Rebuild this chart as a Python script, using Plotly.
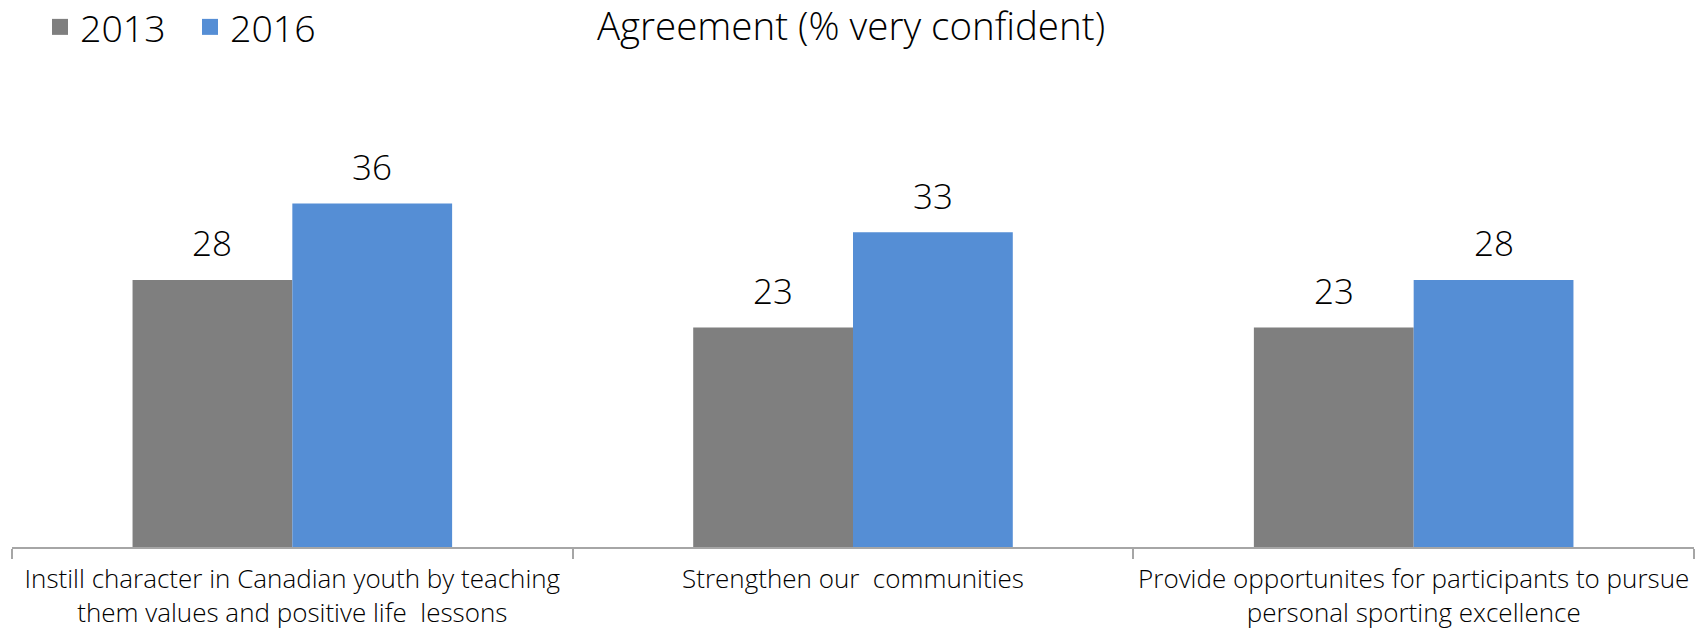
import plotly.graph_objects as go

# Survey items and agreement shares (% very confident)
categories = [
    "Instill character in Canadian youth by teaching<br>them values and positive life  lessons",
    "Strengthen our  communities",
    "Provide opportunites for participants to pursue<br>personal sporting excellence",
]
values_2013 = [28, 23, 23]
values_2016 = [36, 33, 28]
series_names = ["2013", "2016"]
series_colors = ["#7f7f7f", "#558ed5"]

FONT = "Open Sans"
WEIGHT = 300
BARGAP = 0.43

fig = go.Figure()
for name, vals, color in zip(series_names, [values_2013, values_2016], series_colors):
    fig.add_trace(go.Bar(
        name=name,
        x=categories,
        y=vals,
        marker=dict(color=color, line=dict(width=0)),
        showlegend=False,
        hoverinfo="skip",
    ))

# legend entries drawn as larger square swatches
for name, color in zip(series_names, series_colors):
    fig.add_trace(go.Scatter(
        name=name, x=[None], y=[None], mode="markers",
        marker=dict(symbol="square", size=16, color=color),
        showlegend=True, hoverinfo="skip",
    ))

# value labels above each bar, placed at the grouped bar centres
half = (1 - BARGAP) / 4
annotations = []
for k, vals in enumerate([values_2013, values_2016]):
    off = -half if k == 0 else half
    for i, v in enumerate(vals):
        annotations.append(dict(
            x=i + off, y=v, xref="x", yref="y",
            text=str(v), showarrow=False,
            yanchor="middle", yshift=37,
            font=dict(family=FONT, size=35, color="#000000", weight=WEIGHT),
        ))

fig.update_layout(
    width=1702, height=632,
    margin=dict(l=12, r=8, t=70, b=85, autoexpand=False),
    paper_bgcolor="white", plot_bgcolor="white",
    barmode="group", bargap=BARGAP, bargroupgap=0,
    font=dict(family=FONT, color="#000000", weight=WEIGHT),
    title=dict(
        text="Agreement (% very confident)",
        x=0.5, xref="container", xanchor="center",
        y=1 - 27 / 632, yref="container", yanchor="middle",
        font=dict(family=FONT, size=38.5, color="#000000", weight=WEIGHT),
    ),
    legend=dict(
        orientation="h",
        x=40 / 1702, xref="container", xanchor="left",
        y=1 - 27 / 632, yref="container", yanchor="middle",
        font=dict(family=FONT, size=37.5, color="#000000", weight=WEIGHT),
        itemwidth=30,
        entrywidth=105,
        bgcolor="rgba(0,0,0,0)",
    ),
    annotations=annotations,
    xaxis=dict(
        type="category",
        categoryorder="array", categoryarray=categories,
        range=[-0.5, len(categories) - 0.5],
        showline=True, linecolor="#a6a6a6", linewidth=1.5,
        ticks="outside", tickson="boundaries", ticklen=10,
        tickcolor="#a6a6a6", tickwidth=1.5,
        tickangle=0, automargin=False,
        ticklabelstandoff=8,
        tickfont=dict(family=FONT, size=26, color="#000000", weight=WEIGHT),
        showgrid=False, zeroline=False,
    ),
    yaxis=dict(
        range=[0, 50],
        visible=False, showgrid=False, zeroline=False,
    ),
)

fig.write_html("out.html")
